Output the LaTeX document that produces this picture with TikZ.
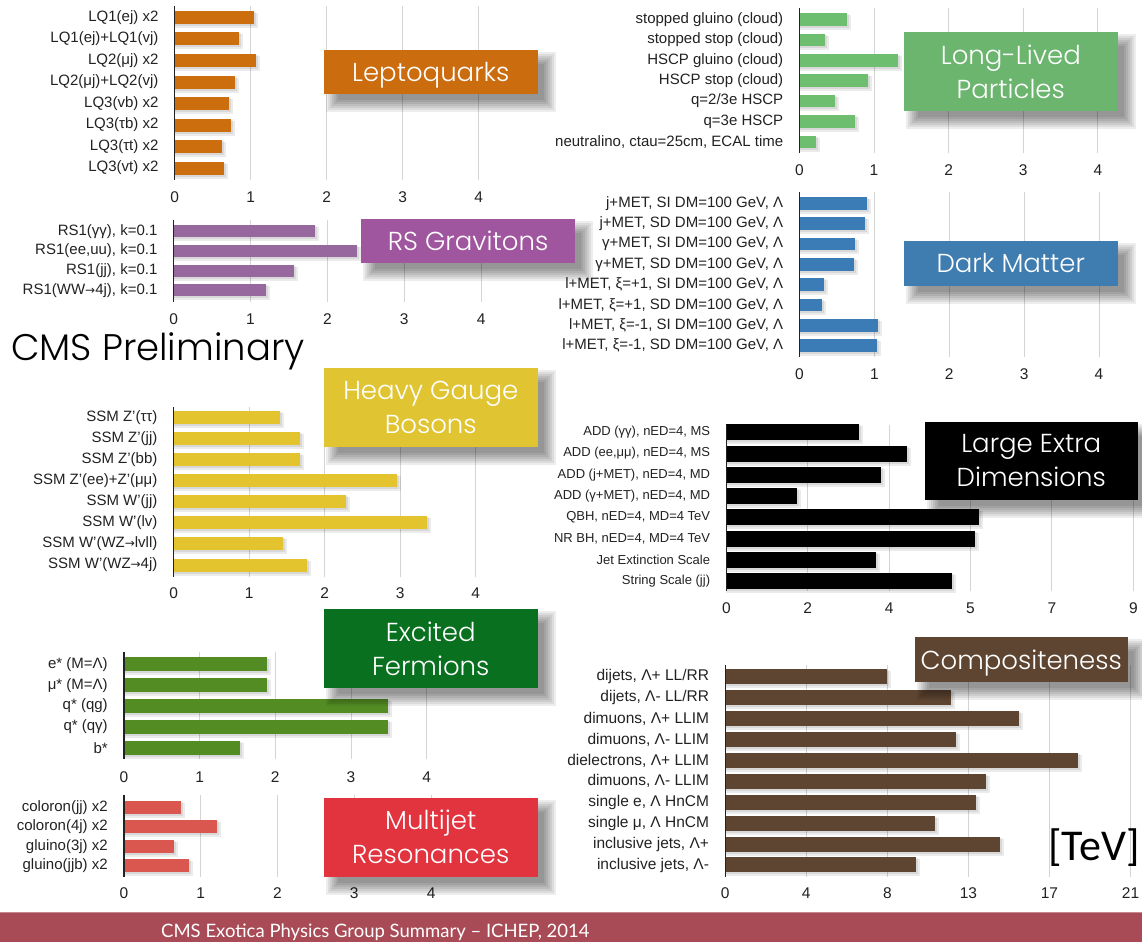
\documentclass[tikz,border=0pt]{standalone}
\usepackage{fontspec}
\setmainfont{Liberation Sans}
\newfontfamily\titlefont[UprightFont=* Light]{Poppins}
\newfontfamily\footfont{Lato}
\newfontfamily\tevfont{Carlito}
\newfontfamily\arrowfont{DejaVu Sans}
\newcommand\rarr{{\arrowfont\fontsize{12}{12}\selectfont →}}
\definecolor{labc}{RGB}{34,34,34}
\definecolor{gridc}{RGB}{212,212,212}
\definecolor{lqbar}{RGB}{204,109,14}
\definecolor{lqbox}{RGB}{203,108,14}
\definecolor{rsbar}{RGB}{150,104,158}
\definecolor{rsbox}{RGB}{160,86,158}
\definecolor{hgbar}{RGB}{227,196,46}
\definecolor{hgbox}{RGB}{225,196,49}
\definecolor{efbar}{RGB}{82,140,34}
\definecolor{efbox}{RGB}{8,112,31}
\definecolor{mjbar}{RGB}{217,87,79}
\definecolor{mjbox}{RGB}{225,52,63}
\definecolor{llbar}{RGB}{109,190,111}
\definecolor{llbox}{RGB}{108,181,110}
\definecolor{dmbar}{RGB}{60,124,182}
\definecolor{dmbox}{RGB}{63,125,177}
\definecolor{edbar}{RGB}{0,0,0}
\definecolor{edbox}{RGB}{0,0,0}
\definecolor{cpbar}{RGB}{94,69,50}
\definecolor{cpbox}{RGB}{94,69,49}
\definecolor{footc}{RGB}{168,75,86}
\tikzset{
  gridl/.style={draw=gridc,line width=1pt},
  axisl/.style={draw=labc,line width=1.4pt},
  lab/.style={anchor=east,inner sep=0pt,text=labc,font=\fontsize{\PF}{\PF}\selectfont},
  tick/.style={inner sep=0pt,text=labc,font=\fontsize{15.5}{15.5}\selectfont},
  ttl/.style={inner sep=0pt,text=white,align=center,text depth=0pt,font=\titlefont\fontsize{26}{34}\selectfont}
}
\newcommand\panel[4]{%
  \foreach \k in {1,...,\PG} \draw[gridl] ({\PX+\k*\PU},\PT) -- ({\PX+\k*\PU},\PB);
  \foreach \k/\t in {#3} \node[tick] (#1t\k) at ({\PX+\k*\PU},\PTY) {\t};
  \foreach \v/\l [count=\i from 0] in {#4} {
    \pgfmathsetmacro\yc{\PY+\i*\PD}
    \pgfmathsetmacro\w{\v*\PU}
    \fill[black,opacity=.08] ({\PX},{\yc-\PH/2+2}) rectangle ++({\w+4},{\PH+2});
    \fill[black,opacity=.08] ({\PX},{\yc-\PH/2+1}) rectangle ++({\w+2},{\PH+1});
    \fill[#2] ({\PX},{\yc-\PH/2}) rectangle ++(\w,\PH);
    \node[lab] (#1\i) at ({\PX-16},\yc) {\l};
  }
  \draw[axisl] (\PX,\PT) -- (\PX,\PB);
}
\newcommand\titlebox[7]{%
  \foreach \r in {-4,-2,0,2,4,6,8}
    \fill[black,opacity=.07] ({#2+10-\r},{#3+10-\r}) rectangle ({#4+10+\r},{#5+10+\r});
  \fill[#6] (#2,#3) rectangle (#4,#5);
  \node[ttl] (#1) at ({(#2+#4)/2},{(#3+#5)/2}) {#7};
}
\begin{document}
\begin{tikzpicture}[x=1pt,y=-1pt]
\useasboundingbox (0,0) rectangle (1142,942);
\fill[white] (0,0) rectangle (1142,942);

% Leptoquarks
\def\PX{174.6}\def\PU{76}\def\PT{6}\def\PB{180}\def\PTY{197}\def\PY{17.5}\def\PD{21.5}\def\PH{13}\def\PG{4}\def\PF{15}
\panel{lq}{lqbar}{0/0,1/1,2/2,3/3,4/4}{1.039/{LQ1(ej) x2},0.851/{LQ1(ej)+LQ1(vj)},1.072/{LQ2(μj) x2},0.79/{LQ2(μj)+LQ2(vj)},0.71/{LQ3(vb) x2},0.747/{LQ3(τb) x2},0.625/{LQ3(τt) x2},0.653/{LQ3(vt) x2}}

% RS Gravitons
\def\PX{173.6}\def\PU{76.9}\def\PT{220}\def\PB{302}\def\PTY{319}\def\PY{231.3}\def\PD{19.7}\def\PH{12}\def\PG{4}\def\PF{15}
\panel{rs}{rsbar}{0/0,1/1,2/2,3/3,4/4}{1.835/{RS1(γγ), k=0.1},2.388/{RS1(ee,uu), k=0.1},1.57/{RS1(jj), k=0.1},1.208/{RS1(WW\rarr 4j), k=0.1}}

% Heavy Gauge Bosons
\def\PX{173.6}\def\PU{75.5}\def\PT{407}\def\PB{577}\def\PTY{593}\def\PY{417.3}\def\PD{21.1}\def\PH{13}\def\PG{4}\def\PF{15}
\panel{hg}{hgbar}{0/0,1/1,2/2,3/3,4/4}{1.404/{SSM Z'(ττ)},1.674/{SSM Z'(jj)},1.674/{SSM Z'(bb)},2.96/{SSM Z'(ee)+Z'(μμ)},2.289/{SSM W'(jj)},3.362/{SSM W'(lv)},1.452/{SSM W'(WZ\rarr lvll)},1.768/{SSM W'(WZ\rarr 4j)}}

% Excited Fermions
\def\PX{123.9}\def\PU{75.7}\def\PT{652}\def\PB{759}\def\PTY{777}\def\PY{664.3}\def\PD{20.85}\def\PH{14}\def\PG{4}\def\PF{15}
\panel{ef}{efbar}{0/0,1/1,2/2,3/3,4/4}{1.896/{e* (M=Λ)},1.896/{μ* (M=Λ)},3.495/{q* (qg)},3.495/{q* (qγ)},1.538/{b*}}

% Multijet Resonances
\def\PX{123.9}\def\PU{76.8}\def\PT{795}\def\PB{877}\def\PTY{893}\def\PY{807.3}\def\PD{19.47}\def\PH{12.7}\def\PG{4}\def\PF{15}
\panel{mj}{mjbar}{0/0,1/1,2/2,3/3,4/4}{0.744/{coloron(jj) x2},1.209/{coloron(4j) x2},0.651/{gluino(3j) x2},0.842/{gluino(jjb) x2}}

% Long-Lived Particles
\def\PX{799.4}\def\PU{74.6}\def\PT{8}\def\PB{153}\def\PTY{170}\def\PY{19.5}\def\PD{20.4}\def\PH{12.7}\def\PG{4}\def\PF{15}
\panel{ll}{llbar}{0/0,1/1,2/2,3/3,4/4}{0.637/{stopped gluino (cloud)},0.338/{stopped stop (cloud)},1.328/{HSCP gluino (cloud)},0.925/{HSCP stop (cloud)},0.473/{q=2/3e HSCP},0.746/{q=3e HSCP},0.219/{neutralino, ctau=25cm, ECAL time}}

% Dark Matter
\def\PX{799.4}\def\PU{74.9}\def\PT{192}\def\PB{357}\def\PTY{374}\def\PY{203.3}\def\PD{20.34}\def\PH{12.7}\def\PG{4}\def\PF{15}
\panel{dm}{dmbar}{0/0,1/1,2/2,3/3,4/4}{0.897/{j+MET, SI DM=100 GeV, Λ},0.882/{j+MET, SD DM=100 GeV, Λ},0.748/{γ+MET, SI DM=100 GeV, Λ},0.733/{γ+MET, SD DM=100 GeV, Λ},0.327/{l+MET, ξ=+1, SI DM=100 GeV, Λ},0.297/{l+MET, ξ=+1, SD DM=100 GeV, Λ},1.051/{l+MET, ξ=-1, SI DM=100 GeV, Λ},1.031/{l+MET, ξ=-1, SD DM=100 GeV, Λ}}

% Large Extra Dimensions
\def\PX{726.3}\def\PU{81.4}\def\PT{425}\def\PB{590.7}\def\PTY{608}\def\PY{432.3}\def\PD{21.24}\def\PH{16}\def\PG{5}\def\PF{13}
\panel{ed}{edbar}{0/0,1/2,2/4,3/5,4/7,5/9}{1.627/{ADD (γγ), nED=4, MS},2.218/{ADD (ee,μμ), nED=4, MS},1.899/{ADD (j+MET), nED=4, MD},0.866/{ADD (γ+MET), nED=4, MD},3.099/{QBH, nED=4, MD=4 TeV},3.049/{NR BH, nED=4, MD=4 TeV},1.833/{Jet Extinction Scale},2.77/{String Scale (jj)}}

% Compositeness
\def\PX{725.2}\def\PU{81.07}\def\PT{665}\def\PB{876.7}\def\PTY{893}\def\PY{676.7}\def\PD{20.92}\def\PH{15}\def\PG{5}\def\PF{15.5}
\panel{cp}{cpbar}{0/0,1/4,2/8,3/13,4/17,5/21}{2.001/{dijets, Λ+ LL/RR},2.779/{dijets, Λ- LL/RR},3.622/{dimuons, Λ+ LLIM},2.852/{dimuons, Λ- LLIM},4.35/{dielectrons, Λ+ LLIM},3.214/{dimuons, Λ- LLIM},3.091/{single e,  Λ HnCM},2.587/{single μ, Λ HnCM},3.393/{inclusive jets, Λ+},2.349/{inclusive jets, Λ-}}

% title boxes
\titlebox{tlq}{324}{50}{537.5}{94}{lqbox}{Leptoquarks}
\titlebox{trs}{361.4}{219}{574.8}{263.3}{rsbox}{RS Gravitons}
\titlebox{thg}{324}{367.7}{537.5}{446.7}{hgbox}{Heavy Gauge\\Bosons}
\titlebox{tef}{324}{609}{537.5}{687.7}{efbox}{Excited\\Fermions}
\titlebox{tmj}{324}{797.7}{537.5}{876.7}{mjbox}{Multijet\\Resonances}
\titlebox{tll}{904.1}{32.3}{1117.5}{111}{llbox}{Long-Lived\\Particles}
\titlebox{tdm}{904.1}{240.7}{1117.5}{285.7}{dmbox}{Dark Matter}
\titlebox{ted}{924.5}{421.7}{1138}{500}{edbox}{Large Extra\\Dimensions}
\titlebox{tcp}{914.5}{637.3}{1127.9}{681.7}{cpbox}{Compositeness}

% CMS Preliminary
\node[anchor=base west,inner sep=0pt,font=\titlefont\fontsize{37}{37}\selectfont] (cms) at (11,360) {CMS Preliminary};
% TeV
\node[anchor=base east,inner sep=0pt,font=\tevfont\fontsize{44}{44}\selectfont] (tev) at (1140,860) {[TeV]};
% footer
\fill[footc] (0,912) rectangle (1142,942);
\draw[white,opacity=.35,line width=1pt] (0,912.5) -- (1142,912.5);
\node[anchor=base west,inner sep=0pt,text=white,font=\footfont\fontsize{18.5}{18.5}\selectfont] (foot) at (161,937.5) {CMS Exotica Physics Group Summary – ICHEP, 2014};
\end{tikzpicture}
\end{document}
